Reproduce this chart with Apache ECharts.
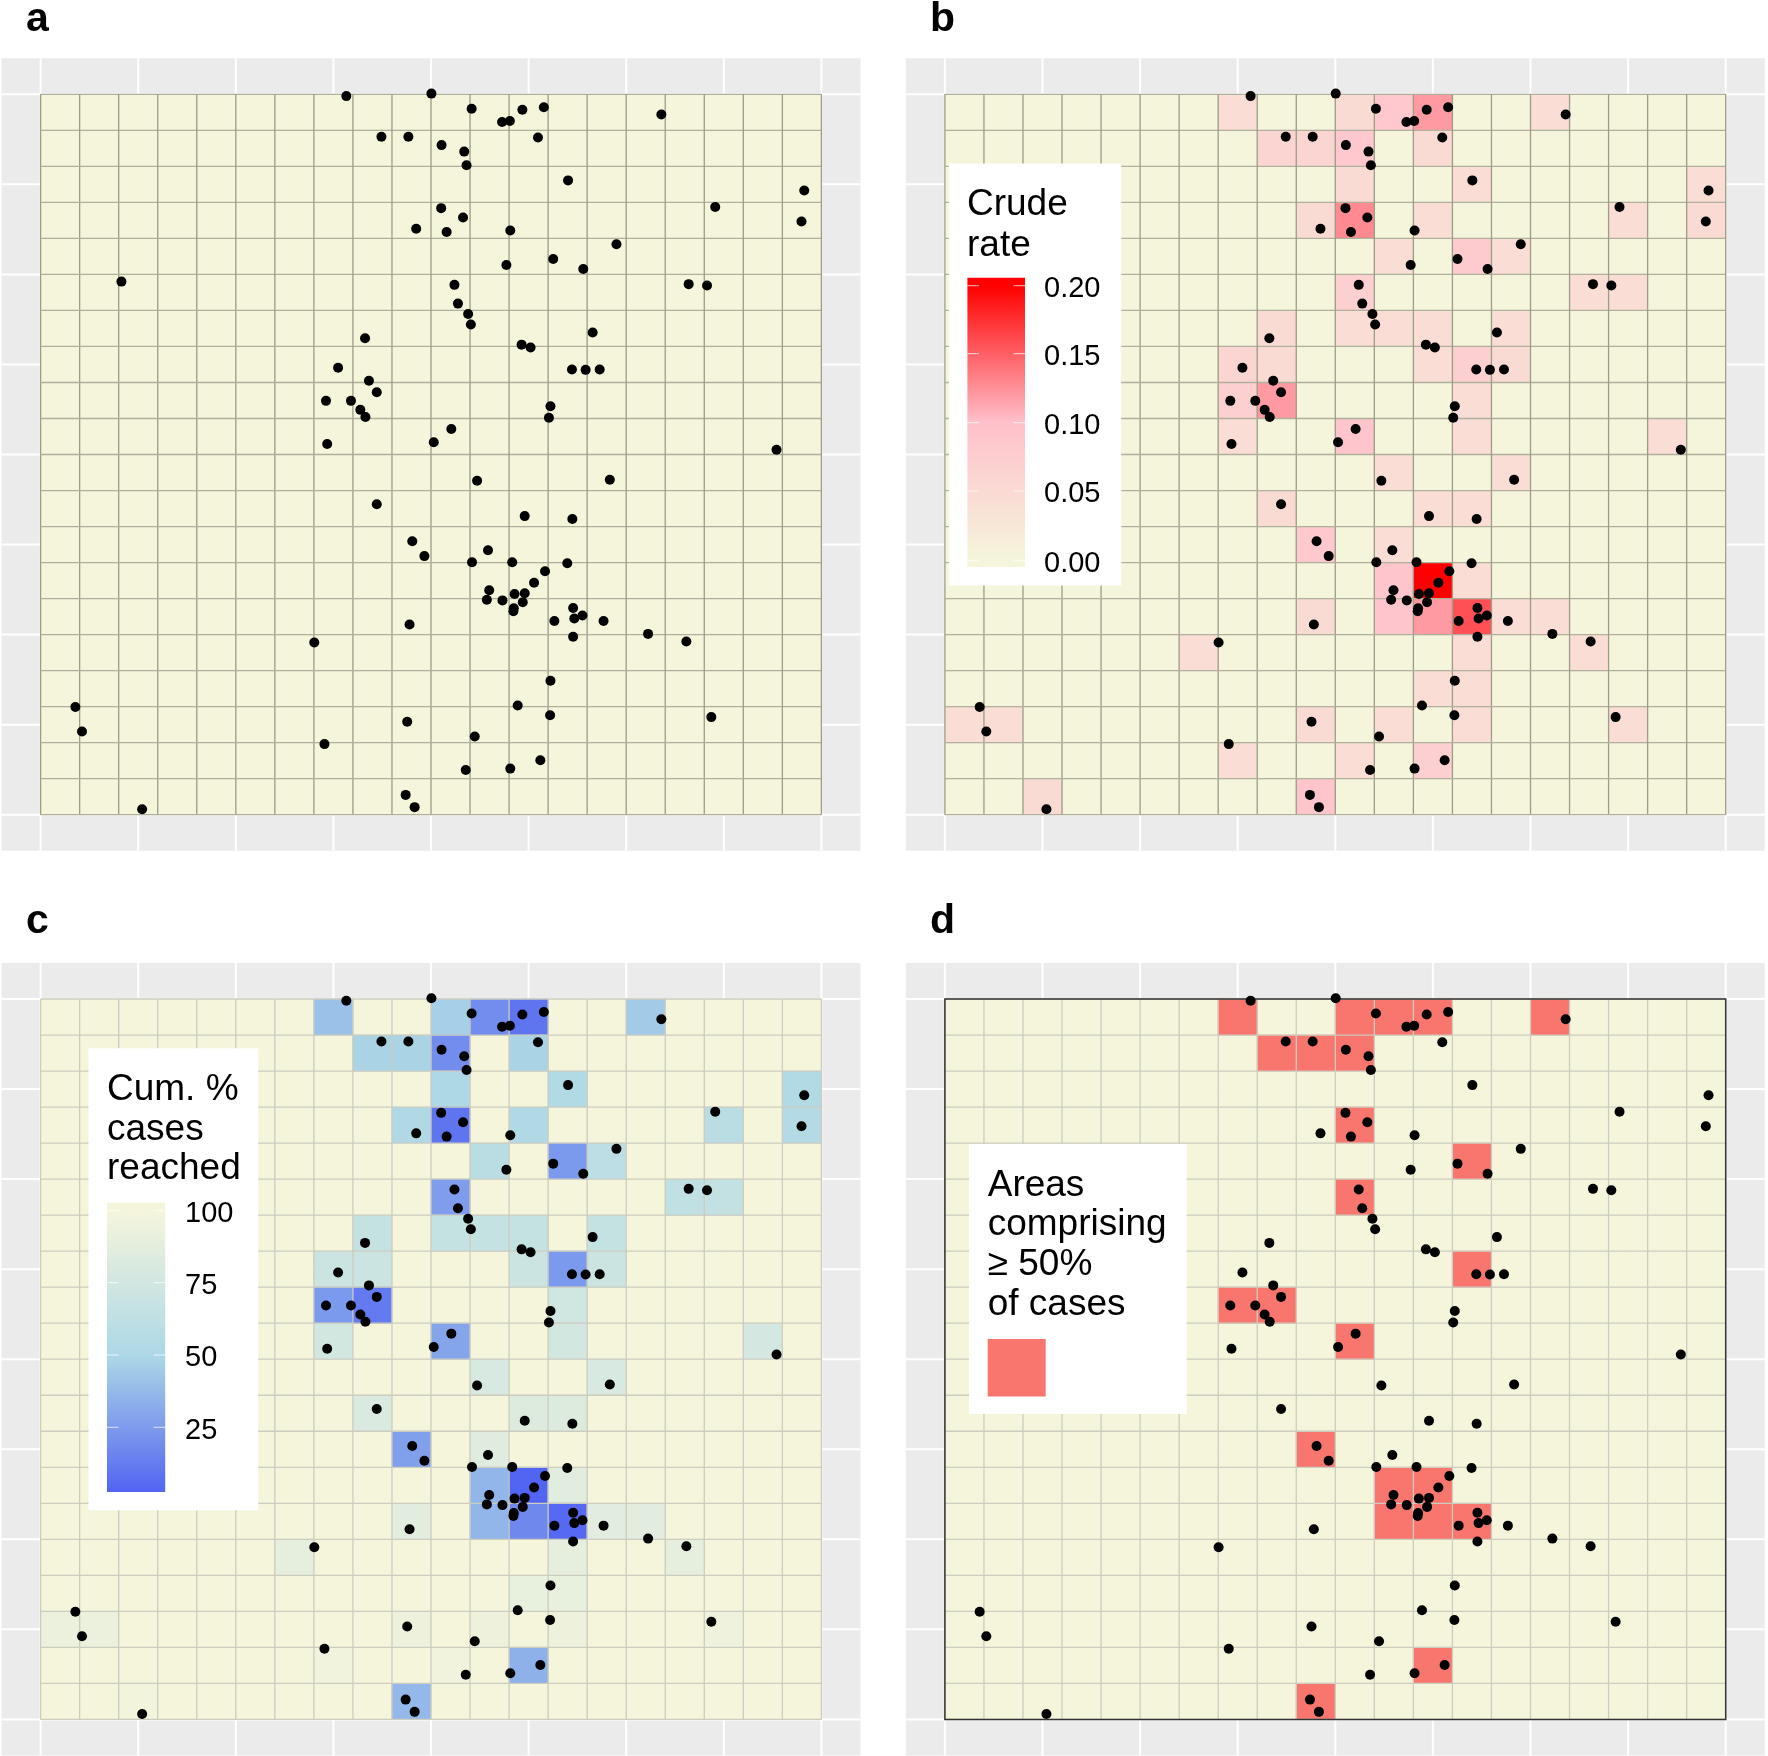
<!DOCTYPE html>
<html>
<head>
<meta charset="utf-8">
<style>html,body{margin:0;padding:0;background:#fff}#c{width:1768px;height:1756px}</style>
<script src="https://cdn.jsdelivr.net/npm/echarts@6/dist/echarts.min.js"></script>
</head>
<body>
<div id="c"></div>
<script>
// Case locations, in grid-cell units: [column position, row position from the top]
const casePoints = [
[7.81,0.05],[9.99,-0.02],[11.02,0.40],[12.32,0.43],[12.87,0.36],[15.88,0.56],[11.80,0.77],[12.00,0.74],
[8.71,1.18],[9.40,1.18],[12.72,1.20],[10.25,1.41],[10.83,1.59],[10.89,1.97],[13.49,2.39],[19.54,2.67],
[17.26,3.13],[10.24,3.16],[10.80,3.42],[19.47,3.53],[9.60,3.73],[10.38,3.82],[12.01,3.78],[14.73,4.16],
[13.11,4.57],[11.91,4.74],[13.88,4.85],[2.05,5.20],[10.58,5.29],[16.58,5.27],[17.05,5.31],[10.67,5.81],
[10.93,6.10],[11.00,6.39],[14.12,6.61],[8.29,6.77],[12.30,6.95],[12.53,7.03],[7.60,7.59],[13.59,7.64],
[13.94,7.65],[14.30,7.64],[8.39,7.95],[8.59,8.27],[7.29,8.51],[7.93,8.51],[8.17,8.76],[8.30,8.96],
[13.04,8.66],[13.00,8.98],[10.50,9.29],[7.32,9.71],[10.05,9.66],[18.83,9.87],[11.16,10.73],[14.56,10.70],
[8.59,11.38],[12.38,11.71],[13.60,11.79],[9.50,12.41],[9.81,12.82],[11.44,12.66],[11.03,12.99],[12.06,12.99],
[13.47,13.02],[12.90,13.24],[12.62,13.56],[11.47,13.77],[12.12,13.87],[12.38,13.85],[11.41,14.03],[11.81,14.05],
[12.33,14.10],[12.10,14.27],[12.09,14.35],[13.62,14.26],[13.65,14.55],[13.86,14.47],[13.14,14.62],[14.40,14.62],
[9.43,14.72],[15.54,14.98],[13.62,15.06],[16.52,15.19],[6.99,15.22],[13.04,16.28],[12.20,16.97],[0.87,17.01],
[13.03,17.24],[17.16,17.29],[9.37,17.42],[1.04,17.69],[11.10,17.83],[7.25,18.04],[12.78,18.49],[12.01,18.72],
[10.87,18.76],[9.33,19.45],[9.56,19.79],[2.58,19.85]
];
// Crude rate per cell: [column, row from top, rate]; unlisted cells are 0
const crudeRateCells = [
[7,0,.045],[10,0,.05],[11,0,.085],[12,0,.12],[15,0,.045],
[8,1,.06],[9,1,.06],[10,1,.085],[12,1,.05],
[10,2,.05],[13,2,.045],[19,2,.045],
[9,3,.05],[10,3,.128],[12,3,.045],[17,3,.045],[19,3,.05],
[11,4,.045],[13,4,.08],[14,4,.045],
[10,5,.07],[16,5,.045],[17,5,.045],
[8,6,.05],[10,6,.045],[11,6,.045],[12,6,.045],[14,6,.045],
[7,7,.06],[8,7,.05],[12,7,.045],[13,7,.07],[14,7,.05],
[7,8,.07],[8,8,.12],[13,8,.045],
[7,9,.045],[10,9,.09],[13,9,.045],[18,9,.045],
[11,10,.045],[14,10,.045],
[8,11,.05],[12,11,.045],[13,11,.045],
[9,12,.085],[11,12,.045],
[11,13,.09],[12,13,.20],[13,13,.045],
[9,14,.05],[11,14,.09],[12,14,.12],[13,14,.158],[14,14,.045],[15,14,.045],
[6,15,.045],[13,15,.045],[16,15,.045],
[12,16,.045],[13,16,.045],
[0,17,.045],[1,17,.045],[9,17,.05],[11,17,.045],[13,17,.045],[17,17,.045],
[7,18,.045],[10,18,.045],[12,18,.07],
[2,19,.05],[9,19,.09]
];
// Cumulative % of cases reached per cell; unlisted cells are 100
const cumulativeCells = [
[7,0,42],[10,0,48],[11,0,20],[12,0,10],[15,0,46],
[8,1,50],[9,1,50],[10,1,20],[12,1,50],
[10,2,52],[13,2,55],[19,2,55],
[9,3,54],[10,3,10],[12,3,54],[17,3,60],[19,3,56],
[11,4,60],[13,4,25],[14,4,62],
[10,5,27],[16,5,65],[17,5,66],
[8,6,68],[10,6,68],[11,6,68],[12,6,68],[14,6,68],
[7,7,72],[8,7,72],[12,7,72],[13,7,25],[14,7,72],
[7,8,25],[8,8,12],[13,8,75],
[7,9,77],[10,9,30],[13,9,77],[18,9,78],
[11,10,80],[14,10,80],
[8,11,82],[12,11,84],[13,11,84],
[9,12,28],[11,12,85],
[11,13,37],[12,13,3],[13,13,86],
[9,14,87],[11,14,37],[12,14,18],[13,14,5],[14,14,87],[15,14,87],
[6,15,90],[13,15,90],[16,15,90],
[12,16,91],[13,16,91],
[0,17,93],[1,17,93],[9,17,95],[11,17,95],[13,17,95],[17,17,96],
[7,18,97],[10,18,97],[12,18,35],
[2,19,98],[9,19,38]
];
// Cells that together hold at least 50% of cases: [column, row from top]
const topAreaCells = [
[7,0],[10,0],[11,0],[12,0],[15,0],[8,1],[9,1],[10,1],[10,3],[13,4],[10,5],[13,7],[7,8],[8,8],[10,9],
[9,12],[11,13],[12,13],[11,14],[12,14],[13,14],[12,18],[9,19]
];
const gridColumns = 20, gridRows = 20;
const guideBreaks = [0,2.5,5,7.5,10,12.5,15,17.5,20];
const rateTicks = ['0.20','0.15','0.10','0.05','0.00'];
const cumulativeTicks = ['100','75','50','25'];

const rateRange = [0, 0.20], rateColors = ['#F5F5DC','#FFC0CB','#FF0000'];
const cumRange = [3, 100], cumColors = ['#5264F2','#ADD8E6','#F5F5DC'];
const topColor = '#F8766D', baseColor = '#F5F5DC';

function fullGrid(sparse, fallback){
  const seen = {}; sparse.forEach(s => seen[s[0]+'_'+s[1]] = 1);
  const out = [];
  for (let r=0;r<gridRows;r++) for (let c=0;c<gridColumns;c++) if(!seen[c+'_'+r]) out.push([c,r,fallback]);
  return out.concat(sparse);
}
const cellEdges = [];
for (let k=0;k<=gridColumns;k++) cellEdges.push([k]);

const CW = 39.04, CH = 36.02;
const panels = [
  {left:40.6-CW, top:58.3, vLine:'#9C9C88', hLine:'#B0B09C', cells:fullGrid([],0), mode:'base'},
  {left:944.9-CW, top:58.3, vLine:'#9C9C88', hLine:'#B0B09C', cells:fullGrid(crudeRateCells,0), mode:'rate'},
  {left:40.6-CW, top:963, vLine:'#CCCCBF', hLine:'#CCCCBF', cells:fullGrid(cumulativeCells,100), mode:'cum'},
  {left:944.9-CW, top:963, vLine:'#CCCCBF', hLine:'#CCCCBF', cells:fullGrid(topAreaCells.map(c=>[c[0],c[1],1]),0), mode:'top', frame:true}
];
const W = CW*22, H = CH*22;
const grids=[], xs=[], ys=[], series=[], vms=[];
panels.forEach((p,i)=>{
  grids.push({left:p.left, top:p.top, width:W, height:H, show:true, backgroundColor:'#EBEBEB', borderWidth:0, containLabel:false});
  const hide={show:false};
  xs.push({type:'value',gridIndex:i,min:-1,max:21,axisLine:hide,axisTick:hide,axisLabel:hide,splitLine:hide});
  ys.push({type:'value',gridIndex:i,min:-1,max:21,inverse:true,axisLine:hide,axisTick:hide,axisLabel:hide,splitLine:hide});
  // white reference lines of the grey plot panel
  series.push({type:'custom',xAxisIndex:i,yAxisIndex:i,z:1,silent:true,
    data:guideBreaks.map(b=>[b]),encode:{x:0},
    renderItem:(params,api)=>{
      const v=api.value(0);
      const a=api.coord([v,-1]),b=api.coord([v,21]),c=api.coord([-1,v]),d=api.coord([21,v]);
      return {type:'group',children:[
        {type:'line',shape:{x1:a[0],y1:a[1],x2:b[0],y2:b[1]},style:{stroke:'#fff',lineWidth:2}},
        {type:'line',shape:{x1:c[0],y1:c[1],x2:d[0],y2:d[1]},style:{stroke:'#fff',lineWidth:2}}
      ]};
    }});
  // tiles
  const idx = series.length;
  series.push({type:'custom',xAxisIndex:i,yAxisIndex:i,z:2,silent:true,data:p.cells,
    encode:{x:0,y:1},dimensions:['col','row','val'],
    renderItem:(params,api)=>{
      const c=api.value(0),r=api.value(1),v=api.value(2);
      const a=api.coord([c,r]),b=api.coord([c+1,r+1]);
      let fill=baseColor;
      if(p.mode==='rate'||p.mode==='cum') fill=api.visual('color');
      if(p.mode==='top'&&v===1) fill=topColor;
      return {type:'rect',shape:{x:a[0],y:a[1],width:b[0]-a[0],height:b[1]-a[1]},style:{fill:fill,stroke:fill,lineWidth:0.5}};
    }});
  // cell borders
  series.push({type:'custom',xAxisIndex:i,yAxisIndex:i,z:3,silent:true,data:cellEdges,encode:{x:0},
    renderItem:(params,api)=>{
      const v=api.value(0);
      const a=api.coord([v,0]),b=api.coord([v,gridRows]),c=api.coord([0,v]),d=api.coord([gridColumns,v]);
      return {type:'group',children:[
        {type:'line',shape:{x1:c[0],y1:c[1],x2:d[0],y2:d[1]},style:{stroke:p.hLine,lineWidth:1.3}},
        {type:'line',shape:{x1:a[0],y1:a[1],x2:b[0],y2:b[1]},style:{stroke:p.vLine,lineWidth:1.3}}
      ]};
    }});
  if(p.mode==='rate') vms.push({type:'continuous',show:false,seriesIndex:idx,dimension:2,min:rateRange[0],max:rateRange[1],inRange:{color:rateColors}});
  if(p.mode==='cum') vms.push({type:'continuous',show:false,seriesIndex:idx,dimension:2,min:cumRange[0],max:cumRange[1],inRange:{color:cumColors}});
  if(p.frame){
    series.push({type:'custom',xAxisIndex:i,yAxisIndex:i,z:4,silent:true,data:[[0,0,gridColumns,gridRows]],encode:{x:0,y:1},
      renderItem:(params,api)=>{
        const a=api.coord([api.value(0),api.value(1)]),b=api.coord([api.value(2),api.value(3)]);
        return {type:'rect',shape:{x:a[0],y:a[1],width:b[0]-a[0],height:b[1]-a[1]},style:{fill:'none',stroke:'#333',lineWidth:1.5}};
      }});
  }
  series.push({type:'scatter',xAxisIndex:i,yAxisIndex:i,z:20,silent:true,clip:false,data:casePoints,symbol:'circle',symbolSize:10,symbolOffset:[0.8,0],
    itemStyle:{color:'#000',opacity:1},animation:false});
});

const FONT='"Liberation Sans", Arial, sans-serif';
// y is the text baseline
const txt=(s,x,y,size,weight)=>({type:'text',z:200,silent:true,style:{text:s,x:x,y:y-size*0.78+(weight?0:1),font:(weight||'normal')+' '+size+'px '+FONT,fill:'#000'}});
const box=(x,y,w,h,fill)=>({type:'rect',z:150,silent:true,shape:{x:x,y:y,width:w,height:h},style:{fill:fill}});
const tick=(x1,x2,y)=>({type:'line',z:190,silent:true,shape:{x1:x1,y1:y,x2:x2,y2:y},style:{stroke:'#fff',opacity:.75,lineWidth:1}});
const grad=(stops)=>new echarts.graphic.LinearGradient(0,0,0,1,stops.map(s=>({offset:s[0],color:s[1]})));

const graphics=[
  txt('a',26,31,41,'bold'),txt('b',930,31,41,'bold'),txt('c',26,933,41,'bold'),txt('d',930,933,41,'bold'),
  // crude rate legend
  box(948.8,163.5,172.5,422,'#fff'),
  txt('Crude',967,214,37),txt('rate',967,255,37),
  box(967.4,277.7,57.6,289.3,grad([[0,'#FF0000'],[0.028,'#FF0000'],[0.50,'#FFC0CB'],[0.976,'#F5F5DC'],[1,'#F5F5DC']])),
  // cumulative legend
  box(88.5,1048.3,169.7,462,'#fff'),
  txt('Cum. %',107,1099,37),txt('cases',107,1138.7,37),txt('reached',107,1178.3,37),
  box(107,1202.7,58.2,289.3,grad([[0,'#F5F5DC'],[0.028,'#F5F5DC'],[0.527,'#ADD8E6'],[1,'#5264F2']])),
  // top-area legend
  box(969,1144,217.7,270,'#fff'),
  txt('Areas',987.7,1195,37),txt('comprising',987.7,1234,37),txt('\u2265 50%',987.7,1274,37),txt('of cases',987.7,1314,37),
  box(987.7,1339,58,57.5,topColor)
];
const rateY=[285.7,353.7,422.7,491,560.3];
rateTicks.forEach((t,i)=>{graphics.push(tick(967.4,979,rateY[i]),tick(1013.5,1025,rateY[i]),txt(t,1044,rateY[i]+10.5,29));});
const cumY=[1210.7,1282.7,1355,1427.3];
cumulativeTicks.forEach((t,i)=>{graphics.push(tick(107,118.5,cumY[i]),tick(153.7,165.2,cumY[i]),txt(t,185,cumY[i]+10.5,29));});

const chart=echarts.init(document.getElementById('c'),null,{renderer:'canvas'});
chart.setOption({animation:false,backgroundColor:'#fff',grid:grids,xAxis:xs,yAxis:ys,visualMap:vms,series:series,graphic:{elements:graphics}});
</script>
</body>
</html>
